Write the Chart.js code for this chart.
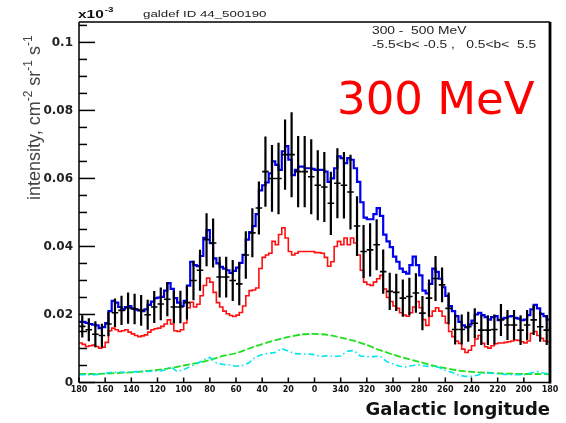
<!DOCTYPE html>
<html>
<head>
<meta charset="utf-8">
<script src="https://cdn.jsdelivr.net/npm/chart.js@4"></script>
<style>
  html, body { margin: 0; padding: 0; background: #fff; }
  canvas { display: block; }
</style>
</head>
<body>
<canvas id="c" width="566" height="423"></canvas>
<script>
// Longitude profile of diffuse gamma-ray intensity, 300-500 MeV,
// -5.5 < b < -0.5 and 0.5 < b < 5.5. Longitudes run 180 -> 0 -> 180 (i.e. 180 .. -180).

const xTickLabels = ['180','160','140','120','100','80','60','40','20','0',
                     '340','320','300','280','260','240','220','200','180'];
const yTickLabels = ['0','0.02','0.04','0.06','0.08','0.1'];

// observed intensity, 5 deg bins, from l = 180 down to l = -180
const obsBinWidth = 5;
const observed = [
  0.0165,0.0155,0.0142,0.0138,0.0172,0.0205,0.0212,0.0219,0.0216,0.0212,
  0.0199,0.0222,0.0231,0.0245,0.0222,0.0222,0.0235,0.030,0.033,0.042,
  0.041,0.031,0.031,0.030,0.029,0.0375,0.044,0.0513,0.062,0.060,
  0.060,0.067,0.067,0.062,0.062,0.0605,
  0.058,0.0575,0.0527,0.0586,0.058,0.056,0.046,0.0385,0.039,0.0405,
  0.0326,0.0268,0.0265,0.0248,0.0253,0.0263,0.0204,0.0248,0.0306,0.0287,
  0.0218,0.0156,0.0156,0.0164,0.0174,0.0154,0.0154,0.0156,0.0184,0.0169,
  0.0169,0.0154,0.0169,0.0184,0.0164,0.0154
];
const observedErr = [
  0.0033,0.0034,0.0038,0.0035,0.0036,0.0042,0.0043,0.0046,0.0045,0.0045,
  0.0044,0.0047,0.0048,0.005,0.0048,0.0048,0.005,0.0058,0.006,0.0078,
  0.0072,0.006,0.006,0.006,0.0063,0.007,0.0072,0.0078,0.0103,0.0098,
  0.0105,0.0103,0.0125,0.0105,0.0105,0.011,
  0.0103,0.0103,0.0093,0.0103,0.0098,0.011,0.0088,0.0078,0.0078,0.0075,
  0.0065,0.0055,0.0055,0.0055,0.0055,0.0058,0.005,0.0055,0.0066,0.0051,
  0.0047,0.0044,0.0044,0.0044,0.0044,0.0044,0.0044,0.0044,0.0047,0.0044,
  0.0044,0.0044,0.0044,0.0044,0.0044,0.0044
];

// model histograms, 2.5 deg bins, from l = 180 down to l = -180
const modelBinWidth = 2.5;
const totalModel = [
  0.0178,0.0178,0.0175,0.0172,0.017,0.0168,0.016,0.0163,0.0175,0.021,
  0.024,0.0235,0.0222,0.0215,0.0222,0.0225,0.0218,0.0214,0.0212,0.021,
  0.0215,0.0228,0.0238,0.0248,0.025,0.0252,0.027,0.0292,0.0275,0.0248,
  0.0235,0.0225,0.024,0.0285,0.0355,0.0345,0.0342,0.0372,0.0425,0.0448,
  0.041,0.0365,0.035,0.034,0.0335,0.033,0.0322,0.0328,0.0338,0.0352,
  0.0375,0.042,0.0442,0.046,0.0495,0.0565,0.058,0.0588,0.0615,0.065,
  0.064,0.0625,0.068,0.0695,0.0655,0.061,0.0625,0.0635,0.0635,0.063,
  0.063,0.0628,
  0.0625,0.0625,0.0625,0.062,0.059,0.06,0.063,0.0665,0.066,0.0645,
  0.066,0.0655,0.063,0.059,0.053,0.0485,0.048,0.048,0.0495,0.0513,
  0.049,0.0435,0.0415,0.0398,0.037,0.0355,0.0335,0.0325,0.032,0.0345,
  0.037,0.0345,0.0315,0.027,0.0262,0.029,0.0335,0.0325,0.0305,0.028,
  0.0255,0.0225,0.021,0.0195,0.0178,0.0168,0.0162,0.017,0.0182,0.02,
  0.0205,0.0198,0.0192,0.0185,0.0192,0.0195,0.0183,0.0188,0.019,0.0194,
  0.0195,0.019,0.0188,0.0183,0.0185,0.0198,0.0215,0.0228,0.0218,0.0202,
  0.0195,0.0185
];
const pionDecay = [
  0.0116,0.0112,0.0106,0.0108,0.011,0.0106,0.0101,0.0104,0.0118,0.0152,
  0.016,0.0155,0.015,0.0152,0.0155,0.0148,0.0143,0.0138,0.0135,0.0137,
  0.014,0.0148,0.0155,0.0158,0.016,0.0165,0.0172,0.0184,0.0172,0.0152,
  0.015,0.0155,0.0175,0.022,0.0236,0.0222,0.023,0.0255,0.0285,0.0307,
  0.0295,0.0265,0.0235,0.0222,0.021,0.0202,0.0197,0.0194,0.0198,0.0206,
  0.0225,0.0255,0.027,0.0272,0.0278,0.0335,0.0368,0.0375,0.038,0.0415,
  0.0405,0.0435,0.0455,0.0425,0.0385,0.0375,0.038,0.0385,0.0385,0.0385,
  0.0385,0.0385,
  0.0382,0.0382,0.038,0.0368,0.0342,0.0355,0.04,0.0415,0.0405,0.0425,
  0.0405,0.0425,0.041,0.0375,0.033,0.0295,0.0288,0.0285,0.0295,0.0305,
  0.0315,0.0275,0.025,0.0238,0.0225,0.0218,0.0205,0.0198,0.0195,0.0205,
  0.0222,0.0238,0.022,0.0185,0.0168,0.0195,0.021,0.022,0.021,0.0195,
  0.0175,0.015,0.0135,0.0122,0.0115,0.0098,0.0088,0.0095,0.0108,0.0128,
  0.0138,0.0115,0.0105,0.0101,0.0108,0.0114,0.0116,0.0116,0.0118,0.012,
  0.0122,0.0125,0.0124,0.012,0.0116,0.0122,0.0145,0.015,0.0138,0.013,
  0.0122,0.012
];

// inverse Compton, every 10 deg from l = 180 to l = -180
const icStep = 10;
const inverseCompton = [
  0.0025,0.0025,0.0026,0.0028,0.003,0.0033,0.0037,0.0042,0.005,0.0057,
  0.0066,0.0078,0.0086,0.010,0.0113,0.0124,0.0134,0.0141,0.0143,0.014,
  0.0132,0.0123,0.011,0.0095,0.0082,0.0071,0.0061,0.005,0.0042,0.0035,
  0.0031,0.0029,0.0027,0.0026,0.0025,0.0025,0.0024
];

// bremsstrahlung, every 5 deg from l = 180 to l = -180
const bremsStep = 5;
const bremsstrahlung = [
  0.0023,0.0023,0.0023,0.0024,0.0027,0.003,0.003,0.003,0.0031,0.0032,
  0.0032,0.0033,0.0033,0.0036,0.0046,0.0032,0.0038,0.0047,0.0055,0.0066,
  0.0074,0.0058,0.0053,0.0052,0.0048,0.005,0.0058,0.0075,0.0082,0.0086,
  0.0088,0.01,0.0092,0.0085,0.0084,0.0084,0.0082,
  0.0076,0.0079,0.0076,0.0078,0.0092,0.0094,0.0078,0.0076,0.0076,0.0078,
  0.0062,0.0055,0.0048,0.0046,0.005,0.0052,0.0048,0.0047,0.0045,0.0035,
  0.003,0.0022,0.0018,0.0018,0.0022,0.0027,0.0027,0.0026,0.0024,0.0023,
  0.0023,0.0023,0.0028,0.0032,0.0028,0.0025
];

// axis coordinate: distance along the plot, -180 at the left (l = 180) to 180 at the right (l = -180)
const toAxis = l => -l;

function histogramPoints(values, width) {
  const pts = values.map((v, i) => ({ x: toAxis(180 - width * i), y: v }));
  pts.push({ x: toAxis(-180), y: 0 });   // histogram closes down to zero at the right edge
  return pts;
}
function curvePoints(values, step) {
  return values.map((v, i) => ({ x: toAxis(180 - step * i), y: v }));
}
const observedPoints = observed.map((v, i) => ({
  x: toAxis(180 - obsBinWidth * (i + 0.5)), y: v, err: observedErr[i]
}));

const SX = 1.4; // horizontal stretch of the ROOT-style lettering
function stretchedText(ctx, text, x, y, font, color, sx) {
  ctx.save();
  ctx.font = font;
  ctx.fillStyle = color;
  ctx.textBaseline = 'alphabetic';
  ctx.textAlign = 'left';
  ctx.translate(x, y);
  ctx.scale(sx, 1);
  ctx.fillText(text, 0, 0);
  const w = ctx.measureText(text).width * sx;
  ctx.restore();
  return w;
}

const errorBarPlugin = {
  id: 'errorBars',
  afterDatasetsDraw(chart) {
    const ds = chart.data.datasets.findIndex(d => d.label === 'data');
    const xs = chart.scales.x, ys = chart.scales.y, ctx = chart.ctx;
    const area = chart.chartArea;
    ctx.save();
    ctx.beginPath();
    ctx.rect(area.left, area.top, area.right - area.left, area.bottom - area.top);
    ctx.clip();
    ctx.strokeStyle = '#000';
    chart.data.datasets[ds].data.forEach(d => {
      const px = xs.getPixelForValue(d.x);
      const py = ys.getPixelForValue(d.y);
      ctx.lineWidth = 2.2;
      ctx.beginPath();
      ctx.moveTo(px, ys.getPixelForValue(d.y + d.err));
      ctx.lineTo(px, ys.getPixelForValue(d.y - d.err));
      ctx.stroke();
      ctx.lineWidth = 1.6;
      ctx.beginPath();
      ctx.moveTo(xs.getPixelForValue(d.x - obsBinWidth / 2), py);
      ctx.lineTo(xs.getPixelForValue(d.x + obsBinWidth / 2), py);
      ctx.stroke();
    });
    ctx.restore();
  }
};

const framePlugin = {
  id: 'frameAndLabels',
  afterDraw(chart) {
    const ctx = chart.ctx, a = chart.chartArea;
    const xs = chart.scales.x, ys = chart.scales.y;
    ctx.save();
    ctx.strokeStyle = '#000';
    ctx.lineWidth = 1.5;
    ctx.beginPath();
    ctx.moveTo(a.left, a.top); ctx.lineTo(a.right, a.top);
    ctx.moveTo(a.left, a.top); ctx.lineTo(a.left, a.bottom);
    ctx.moveTo(a.left, a.bottom); ctx.lineTo(a.right, a.bottom);
    ctx.stroke();
    ctx.lineWidth = 2.8;
    ctx.beginPath();
    ctx.moveTo(a.right, a.top); ctx.lineTo(a.right, a.bottom + 1);
    ctx.stroke();

    // inside tick marks
    ctx.lineWidth = 1.5;
    ys.ticks.forEach(t => {
      const k = t.value / 0.02;
      const major = Math.abs(k - Math.round(k)) < 1e-6;
      const py = ys.getPixelForValue(t.value);
      ctx.beginPath();
      ctx.moveTo(a.left, py);
      ctx.lineTo(a.left + (major ? 16 : 8), py);
      ctx.stroke();
    });
    xs.ticks.forEach(t => {
      const px = xs.getPixelForValue(t.value);
      ctx.beginPath();
      ctx.moveTo(px, a.bottom);
      ctx.lineTo(px, a.bottom - 5);
      ctx.stroke();
    });

    // axis title with superscripts, reading upward
    ctx.translate(40, 200);
    ctx.rotate(-Math.PI / 2);
    ctx.fillStyle = '#444';
    ctx.textBaseline = 'alphabetic';
    const parts = [
      ['intensity, cm', false], ['-2', true], [' sr', false],
      ['-1', true], [' s', false], ['-1', true]
    ];
    let x = 0;
    parts.forEach(([txt, sup]) => {
      ctx.font = sup ? '12px "Liberation Sans"' : '18px "Liberation Sans"';
      ctx.fillText(txt, x, sup ? -8 : 0);
      x += ctx.measureText(txt).width;
    });
    ctx.restore();

    // header lettering
    const w = stretchedText(ctx, 'x10', 78, 18, 'bold 11px "Liberation Sans"', '#111', SX);
    stretchedText(ctx, '-3', 78 + w + 1, 12, 'bold 7px "Liberation Sans"', '#111', SX);
    stretchedText(ctx, 'galdef ID 44_500190', 143, 17, '9.5px "Liberation Sans"', '#222', SX);
    stretchedText(ctx, '300 -  500 MeV', 372, 34, '10px "Liberation Sans"', '#222', 1.38);
    stretchedText(ctx, '-5.5<b< -0.5 ,   0.5<b<  5.5', 372, 48, '10px "Liberation Sans"', '#222', 1.38);

    // energy label
    ctx.save();
    ctx.font = '45px "DejaVu Sans"';
    ctx.fillStyle = '#ff0000';
    ctx.textBaseline = 'alphabetic';
    ctx.fillText('300 MeV', 337, 114);
    ctx.restore();
  }
};

new Chart(document.getElementById('c'), {
  data: {
    datasets: [
      {
        type: 'line', label: 'bremsstrahlung',
        data: curvePoints(bremsstrahlung, bremsStep),
        borderColor: '#00e5ee', borderWidth: 1.6, borderDash: [6, 3, 1.5, 3],
        pointRadius: 0, fill: false, tension: 0
      },
      {
        type: 'line', label: 'inverse Compton',
        data: curvePoints(inverseCompton, icStep),
        borderColor: '#1ee01e', borderWidth: 1.8, borderDash: [7, 2.5],
        pointRadius: 0, fill: false, tension: 0.2
      },
      {
        type: 'line', label: 'total',
        data: histogramPoints(totalModel, modelBinWidth),
        borderColor: '#0000ee', borderWidth: 2.2, stepped: true,
        pointRadius: 0, fill: false
      },
      {
        type: 'line', label: 'pi0',
        data: histogramPoints(pionDecay, modelBinWidth),
        borderColor: '#ff1010', borderWidth: 1.6, stepped: true,
        pointRadius: 0, fill: false
      },
      {
        type: 'scatter', label: 'data',
        data: observedPoints,
        pointRadius: 0, showLine: false
      }
    ]
  },
  options: {
    responsive: false,
    animation: false,
    events: [],
    layout: { padding: { left: 0, top: 22, right: 16, bottom: 2 } },
    plugins: { legend: { display: false }, tooltip: { enabled: false } },
    scales: {
      x: {
        type: 'linear', position: 'bottom', min: -180, max: 180,
        grid: { display: false, drawTicks: false },
        border: { display: false },
        ticks: {
          stepSize: 20, autoSkip: false, maxRotation: 0, padding: 3,
          font: { family: 'DejaVu Sans', weight: 'bold', size: 8 }, color: '#111',
          callback: v => xTickLabels[Math.round((v + 180) / 20)]
        },
        title: {
          display: true, text: 'Galactic longitude', align: 'end',
          font: { family: 'DejaVu Sans', weight: 'bold', size: 18 }, color: '#111',
          padding: { top: 0, bottom: 0 }
        },
        afterFit: s => { s.height = 38.5; }
      },
      y: {
        type: 'linear', position: 'left', min: 0, max: 0.106,
        grid: { display: false, drawTicks: false },
        border: { display: false },
        ticks: {
          stepSize: 0.005, includeBounds: false, autoSkip: false, padding: 6,
          font: { family: 'DejaVu Sans', weight: 'bold', size: 12 }, color: '#222',
          callback: v => {
            const k = v / 0.02;
            return Math.abs(k - Math.round(k)) < 1e-6 ? yTickLabels[Math.round(k)] : '';
          }
        },
        afterFit: s => { s.width = 79; }
      }
    }
  },
  plugins: [errorBarPlugin, framePlugin]
});
</script>
</body>
</html>
